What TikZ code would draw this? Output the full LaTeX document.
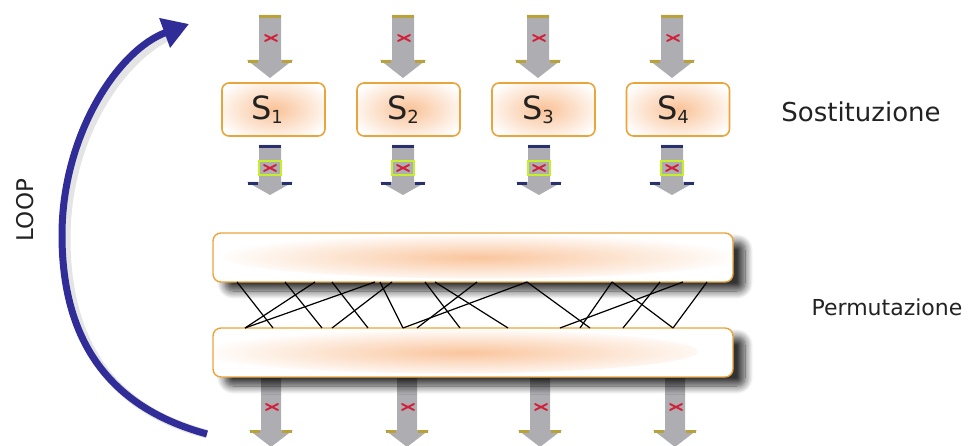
\documentclass[tikz,border=0pt]{standalone}
\usepackage{fontspec}
\setmainfont{DejaVu Sans}
\usetikzlibrary{arrows.meta,shadows.blur}
\definecolor{arrgray}{HTML}{ADADB2}
\definecolor{capolive}{HTML}{B8A23A}
\definecolor{capnavy}{HTML}{2A2F6E}
\definecolor{boxorange}{HTML}{E9A43C}
\definecolor{glowc}{HTML}{F8B27C}
\definecolor{loopblue}{HTML}{302C98}
\definecolor{xred}{HTML}{D2203A}
\definecolor{sqgreen}{HTML}{C6EE2A}
\definecolor{txt}{HTML}{222222}
\tikzset{
  xmark/.pic={\draw[xred,line width=1.8pt,line cap=round] (-6,-3)--(6,3) (-6,3)--(6,-3);},
  toparrow/.pic={
    \fill[arrgray] (-11,0)--(11,0)--(11,45)--(23,45)--(0,63)--(-23,45)--(-11,45)--cycle;
    \draw[capolive,line width=3pt] (-11,1.5)--(11,1.5);
    \draw[capolive,line width=3pt] (-22,46.5)--(-12,46.5) (12,46.5)--(22,46.5);
    \pic at (1,23) {xmark};},
  midarrow/.pic={
    \fill[arrgray] (-11,0)--(11,0)--(11,37)--(23,37)--(0,50)--(-23,37)--(-11,37)--cycle;
    \draw[capnavy,line width=3pt] (-11,1.5)--(11,1.5);
    \draw[capnavy,line width=3pt] (-22,38.5)--(-12,38.5) (12,38.5)--(22,38.5);
    \draw[sqgreen,line width=2.5pt] (-11,16) rectangle (11,30);
    \pic at (0,23) {xmark};},
  botarrow/.pic={
    \fill[arrgray] (-10,0)--(10,0)--(10,52)--(22,52)--(0,69)--(-22,52)--(-10,52)--cycle;
    \draw[capolive,line width=3pt] (-21,53.5)--(-11,53.5) (11,53.5)--(21,53.5);
    \pic at (1,29) {xmark};},
  sbox/.style={draw=boxorange, line width=1.6pt, rounded corners=7pt, fill=white,
    minimum width=103pt, minimum height=53pt, inner sep=0pt,
    path picture={\shade[inner color=glowc!80!white, outer color=white]
      (path picture bounding box.center) ellipse (62 and 34);}},
  slabel/.style={text=txt, font=\fontsize{32}{32}\selectfont, inner sep=0pt},
  bar/.style={draw=boxorange, line width=1.4pt, rounded corners=8pt, fill=white,
    minimum width=520pt, minimum height=49pt, inner sep=0pt,
    blur shadow={shadow xshift=12pt, shadow yshift=-9pt, shadow opacity=80,
      shadow blur radius=8pt, shadow blur steps=12}},
  permline/.style={black, line width=1.2pt},
}
\begin{document}
\begin{tikzpicture}[x=1pt,y=-1pt]
\useasboundingbox (0,0) rectangle (969,446);

% LOOP arrow
\coordinate (loopstart) at (207,434);
\coordinate (loopend) at (189,24);
\draw[black!30, opacity=0.35, line width=9pt, xshift=4pt, yshift=-3pt]
  (loopstart) .. controls (100,405) and (62,330) .. (62,235)
  .. controls (62,135) and (118,50) .. (172,30);
\draw[loopblue, line width=7pt, -{Triangle[length=26pt,width=30pt]}]
  (loopstart) .. controls (100,405) and (62,330) .. (62,235)
  .. controls (62,135) and (118,50) .. (loopend);
\node[rotate=90, text=txt, font=\fontsize{23}{23}\selectfont] (loop) at (25,210) {LOOP};

% top arrows
\pic at (270,15) {toparrow};
\pic at (403,15) {toparrow};
\pic at (538,15) {toparrow};
\pic at (672,15) {toparrow};

% S boxes
\node[sbox] (s1) at (273.5,109.5) {};
\node[sbox] (s2) at (408.5,109.5) {};
\node[sbox] (s3) at (543.5,109.5) {};
\node[sbox] (s4) at (678,109.5) {};
\node[slabel] (s1l) at (267,109.5) {S\raisebox{-4pt}{\fontsize{18}{18}\selectfont 1}};
\node[slabel] (s2l) at (403,109.5) {S\raisebox{-4pt}{\fontsize{18}{18}\selectfont 2}};
\node[slabel] (s3l) at (538,109.5) {S\raisebox{-4pt}{\fontsize{18}{18}\selectfont 3}};
\node[slabel] (s4l) at (673,109.5) {S\raisebox{-4pt}{\fontsize{18}{18}\selectfont 4}};

% small arrows
\pic at (270,145) {midarrow};
\pic at (403,145) {midarrow};
\pic at (539,145) {midarrow};
\pic at (672,145) {midarrow};

% bottom arrows
\pic at (271,378) {botarrow};
\pic at (407,378) {botarrow};
\pic at (540,378) {botarrow};
\pic at (675,378) {botarrow};

% permutation bars
\node[bar, path picture={\shade[inner color=glowc!75!white, outer color=white]
   ([xshift=10pt,yshift=1pt]path picture bounding box.center) ellipse (260 and 22);}]
   (p1) at (473,257.5) {};
\node[bar, path picture={\shade[inner color=glowc!75!white, outer color=white]
   ([xshift=-25pt,yshift=1pt]path picture bounding box.center) ellipse (250 and 22);}]
   (p2) at (473,352.5) {};

% permutation wires
\foreach \a/\b in {237/273, 285/322, 332/368, 315/245, 375/245, 392/332, 380/403,
  425/460, 435/508, 477/417, 527/403, 527/590, 612/673, 660/623, 707/673, 683/560, 612/580}
  \draw[permline] (\a,282) -- (\b,328);

% labels
\node[text=txt, font=\fontsize{26}{26}\selectfont] (sost) at (861,112) {Sostituzione};
\node[text=txt, font=\fontsize{22}{22}\selectfont] (perm) at (887,307) {Permutazione};
\end{tikzpicture}
\end{document}
